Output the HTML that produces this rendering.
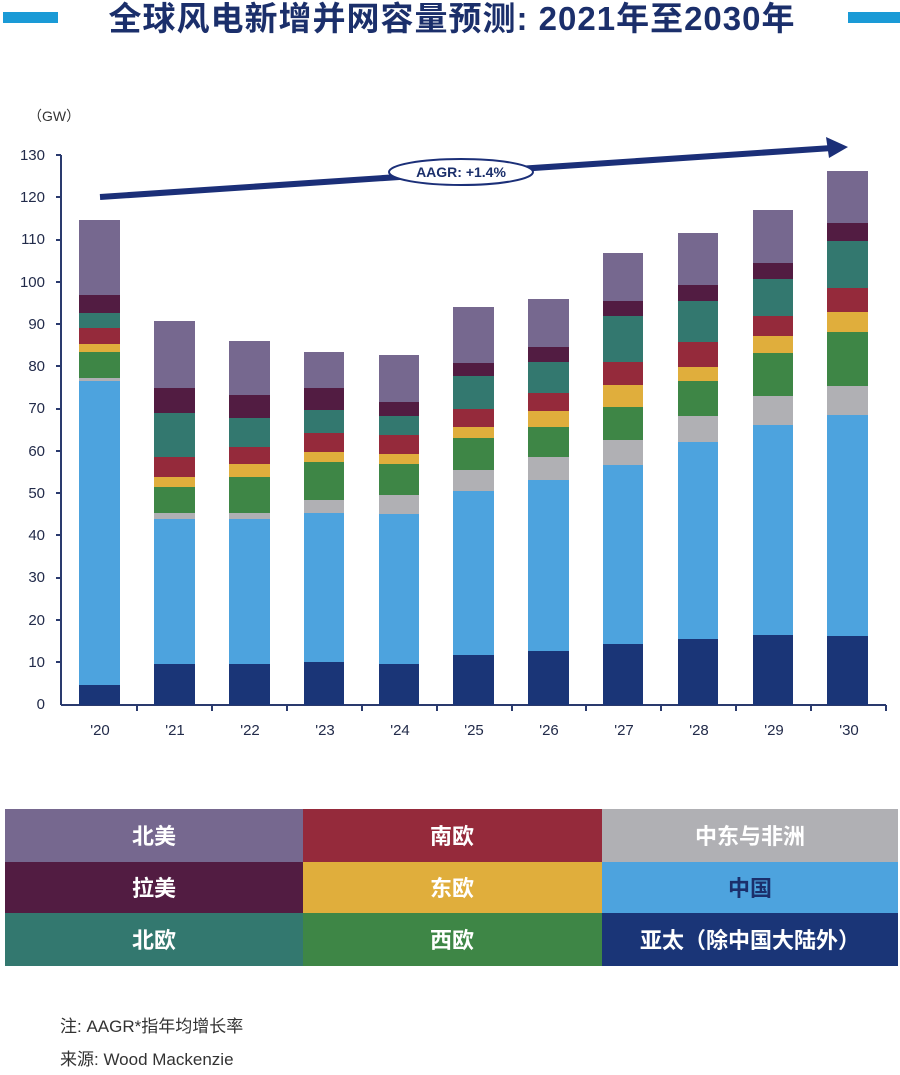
<!DOCTYPE html>
<html><head><meta charset="utf-8"><style>
body{margin:0;background:#fff;width:900px;height:1070px;overflow:hidden}
</style></head><body>
<svg width="900" height="1070" viewBox="0 0 900 1070" xmlns="http://www.w3.org/2000/svg" font-family="Liberation Sans, Noto Sans CJK SC, sans-serif">
<rect x="3" y="12" width="55" height="11" fill="#1a9ad6"/>
<rect x="848" y="12" width="52" height="11" fill="#1a9ad6"/>
<text x="452" y="30" text-anchor="middle" font-size="33" font-weight="bold" fill="#1b2f6b" letter-spacing="1">全球风电新增并网容量预测: 2021年至2030年</text>
<text x="28" y="121" font-size="14" fill="#333">（GW）</text>
<g font-size="15" fill="#222b4a" text-anchor="end">
<text x="45" y="709">0</text><text x="45" y="667">10</text><text x="45" y="625">20</text><text x="45" y="582">30</text><text x="45" y="540">40</text><text x="45" y="498">50</text><text x="45" y="456">60</text><text x="45" y="413">70</text><text x="45" y="371">80</text><text x="45" y="329">90</text><text x="45" y="287">100</text><text x="45" y="244">110</text><text x="45" y="202">120</text><text x="45" y="160">130</text>
</g>
<g stroke="#2a3a6e" stroke-width="2">
<line x1="61" y1="155" x2="61" y2="705"/>
<line x1="56" y1="155" x2="61" y2="155"/><line x1="56" y1="197" x2="61" y2="197"/><line x1="56" y1="240" x2="61" y2="240"/><line x1="56" y1="282" x2="61" y2="282"/><line x1="56" y1="324" x2="61" y2="324"/><line x1="56" y1="366" x2="61" y2="366"/><line x1="56" y1="409" x2="61" y2="409"/><line x1="56" y1="451" x2="61" y2="451"/><line x1="56" y1="493" x2="61" y2="493"/><line x1="56" y1="535" x2="61" y2="535"/><line x1="56" y1="578" x2="61" y2="578"/><line x1="56" y1="620" x2="61" y2="620"/><line x1="56" y1="662" x2="61" y2="662"/>
<line x1="61" y1="705" x2="886" y2="705"/>
<line x1="137" y1="705" x2="137" y2="711"/><line x1="212" y1="705" x2="212" y2="711"/><line x1="287" y1="705" x2="287" y2="711"/><line x1="362" y1="705" x2="362" y2="711"/><line x1="437" y1="705" x2="437" y2="711"/><line x1="512" y1="705" x2="512" y2="711"/><line x1="586" y1="705" x2="586" y2="711"/><line x1="661" y1="705" x2="661" y2="711"/><line x1="736" y1="705" x2="736" y2="711"/><line x1="811" y1="705" x2="811" y2="711"/><line x1="886" y1="705" x2="886" y2="711"/>
</g>
<g id="bars"></g>
<g font-size="15" fill="#222b4a" text-anchor="middle">
<text x="100" y="735">'20</text><text x="175" y="735">'21</text><text x="250" y="735">'22</text><text x="325" y="735">'23</text><text x="400" y="735">'24</text><text x="474" y="735">'25</text><text x="549" y="735">'26</text><text x="624" y="735">'27</text><text x="699" y="735">'28</text><text x="774" y="735">'29</text><text x="849" y="735">'30</text>
</g>
<line x1="100" y1="197" x2="832" y2="148" stroke="#1b2f78" stroke-width="6"/>
<polygon points="848,147 826,137 829,158" fill="#1b2f78"/>
<ellipse cx="461" cy="172" rx="72" ry="13" fill="#fff" stroke="#1b2f78" stroke-width="2"/>
<text x="461" y="177" text-anchor="middle" font-size="14" font-weight="bold" fill="#1b2f6b">AAGR: +1.4%</text>
<g font-size="22" text-anchor="middle" font-weight="bold">
<rect x="5" y="809" width="298" height="53" fill="#76688f"/><text x="154" y="844" fill="#fff">北美</text>
<rect x="303" y="809" width="299" height="53" fill="#952a3b"/><text x="452" y="844" fill="#fff">南欧</text>
<rect x="602" y="809" width="296" height="53" fill="#b0b0b4"/><text x="750" y="844" fill="#fff">中东与非洲</text>
<rect x="5" y="862" width="298" height="51" fill="#521c42"/><text x="154" y="896" fill="#fff">拉美</text>
<rect x="303" y="862" width="299" height="51" fill="#e0ae3c"/><text x="452" y="896" fill="#fff">东欧</text>
<rect x="602" y="862" width="296" height="51" fill="#4da3de"/><text x="750" y="896" fill="#1b2f6b">中国</text>
<rect x="5" y="913" width="298" height="53" fill="#33786f"/><text x="154" y="948" fill="#fff">北欧</text>
<rect x="303" y="913" width="299" height="53" fill="#3e8646"/><text x="452" y="948" fill="#fff">西欧</text>
<rect x="602" y="913" width="296" height="53" fill="#1a3577"/><text x="750" y="948" fill="#fff">亚太（除中国大陆外）</text>
</g>
<text x="60" y="1032" font-size="17" fill="#333">注: AAGR*指年均增长率</text>
<text x="60" y="1065" font-size="17" fill="#333">来源: Wood Mackenzie</text>
</svg>
<script>
var C=["#1a3577","#4da3de","#b0b0b4","#3e8646","#e0ae3c","#952a3b","#33786f","#521c42","#76688f"];
var B=[[79,41,[685,381,378,352,344,328,313,295,220]],
[154,41,[664,519,513,487,477,457,413,388,321]],
[229,41,[664,519,513,477,464,447,418,395,341]],
[304,40,[662,513,500,462,452,433,410,388,352]],
[379,40,[664,514,495,464,454,435,416,402,355]],
[453,41,[655,491,470,438,427,409,376,363,307]],
[528,41,[651,480,457,427,411,393,362,347,299]],
[603,40,[644,465,440,407,385,362,316,301,253]],
[678,40,[639,442,416,381,367,342,301,285,233]],
[753,40,[635,425,396,353,336,316,279,263,210]],
[827,41,[636,415,386,332,312,288,241,223,171]]];
var s="";B.forEach(function(b){var prev=705;b[2].forEach(function(t,i){s+='<rect x="'+b[0]+'" y="'+t+'" width="'+b[1]+'" height="'+(prev-t)+'" fill="'+C[i]+'"/>';prev=t;});});
document.getElementById("bars").innerHTML=s;
</script>
</body></html>
